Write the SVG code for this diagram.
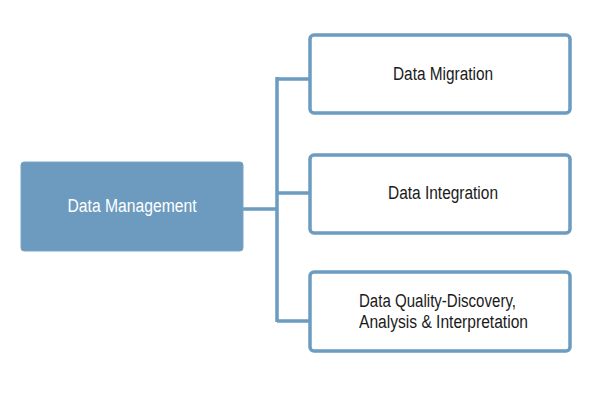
<svg xmlns="http://www.w3.org/2000/svg" width="600" height="400" viewBox="0 0 600 400">
<style>
.box{fill:#ffffff;stroke:#6c9cc0;stroke-width:3.5}
.main{fill:#6c9bbf;stroke:#7aa5c5;stroke-width:1}
.conn{fill:none;stroke:#6c9cc0;stroke-width:3.5}
text{font-family:"Liberation Sans",Arial,sans-serif;font-size:18px}
.dark{fill:#1a1a1a}
.light{fill:#ffffff}
</style>
<rect width="600" height="400" fill="#ffffff"/>
<g id="connectors">
<path class="conn" d="M243 209 H277 M277 77 V322 M277 79 H310 M277 193 H310 M277 321 H310"/>
</g>
<g id="data-management">
<rect class="main" x="21" y="162" width="222" height="89" rx="3"/>
<text class="light" x="132" y="212" text-anchor="middle" textLength="129" lengthAdjust="spacingAndGlyphs">Data Management</text>
</g>
<g id="data-migration">
<rect class="box" x="310" y="35" width="260" height="78" rx="4"/>
<text class="dark" x="443" y="80" text-anchor="middle" textLength="100" lengthAdjust="spacingAndGlyphs">Data Migration</text>
</g>
<g id="data-integration">
<rect class="box" x="310" y="155" width="260" height="78" rx="4"/>
<text class="dark" x="443" y="199" text-anchor="middle" textLength="110" lengthAdjust="spacingAndGlyphs">Data Integration</text>
</g>
<g id="data-quality">
<rect class="box" x="310" y="272" width="260" height="79" rx="4"/>
<text class="dark" x="359" y="307" textLength="157" lengthAdjust="spacingAndGlyphs">Data Quality-Discovery,</text>
<text class="dark" x="359" y="328" textLength="169" lengthAdjust="spacingAndGlyphs">Analysis &amp; Interpretation</text>
</g>
</svg>
